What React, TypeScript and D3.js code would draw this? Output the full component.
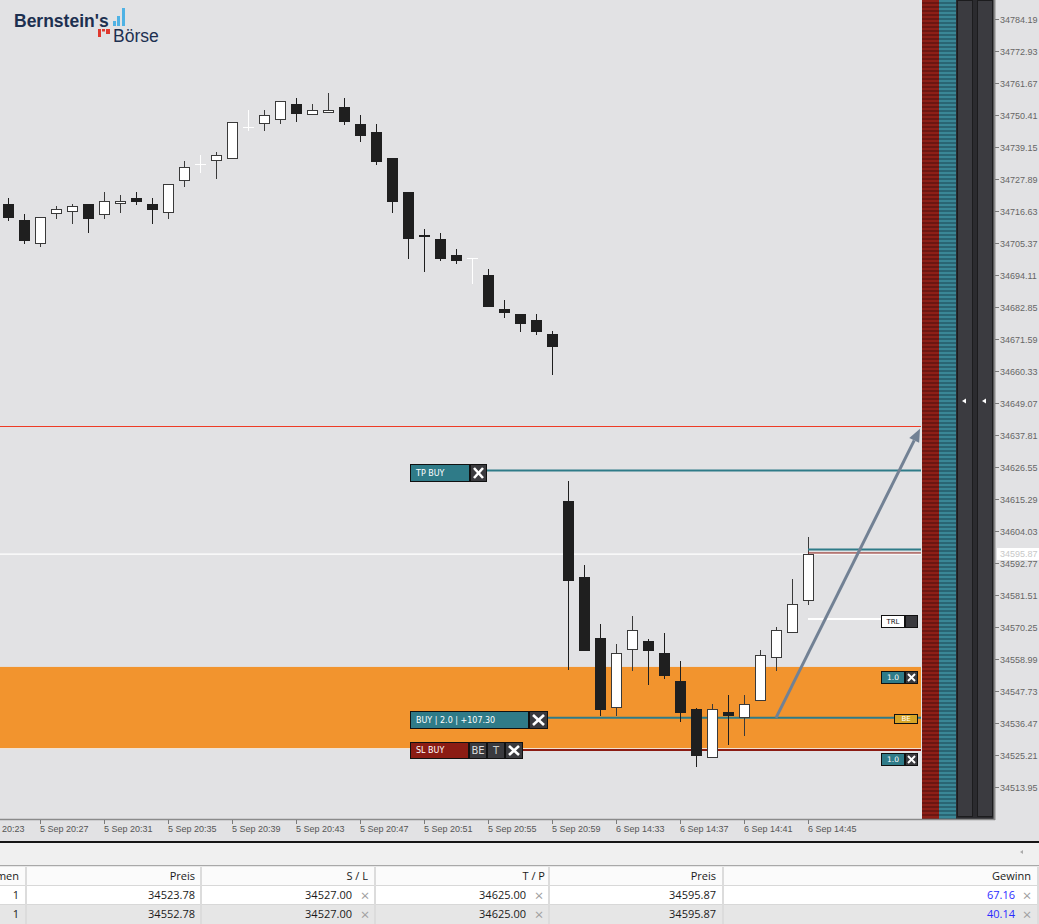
import React from "react";
import * as d3 from "d3";

const W = 1039;
const H = 924;

// ---- Candle data (1-minute bars) ----
const opens = [
  34719.1, 34713.47, 34705.14, 34715.46, 34716.17, 34719.1, 34715.11, 34718.98, 34721.21, 34719.1,
  34716.05, 34727.07, 34733.06, 34734.11, 34735.05, 34746.07, 34747.13, 34748.54, 34754.28, 34750.3,
  34751.0, 34753.23, 34747.25, 34744.43, 34735.28, 34723.32, 34708.19, 34706.78, 34701.15, 34699.98,
  34694.11, 34682.15, 34680.39, 34678.28, 34673.35,
  34614.58, 34587.84, 34566.37, 34541.86, 34562.03, 34565.32, 34561.1, 34551.24, 34541.39, 34524.03,
  34540.34, 34538.11, 34544.09, 34559.22, 34568.02, 34579.28,
];
const highs = [
  34721.21, 34715.58, 34714.52, 34718.39, 34719.1, 34719.1, 34723.32, 34722.26, 34723.32, 34721.21,
  34726.02, 34734.23, 34736.34, 34737.39, 34747.83, 34752.17, 34752.17, 34755.34, 34756.4, 34754.28,
  34758.16, 34756.4, 34750.41, 34747.25, 34735.28, 34723.32, 34710.3, 34708.89, 34703.26, 34699.98,
  34696.23, 34685.32, 34680.39, 34680.39, 34674.41,
  34621.62, 34592.06, 34571.3, 34564.26, 34574.12, 34566.02, 34568.13, 34558.28, 34541.74, 34543.15,
  34546.32, 34546.32, 34562.15, 34570.25, 34587.14, 34601.91,
];
const lows = [
  34713.23, 34705.14, 34704.08, 34713.94, 34712.06, 34709.01, 34713.94, 34716.05, 34718.86, 34712.06,
  34713.94, 34725.2, 34730.12, 34728.01, 34735.05, 34744.9, 34744.9, 34747.36, 34748.07, 34750.3,
  34751.0, 34747.01, 34741.03, 34732.94, 34716.05, 34699.86, 34695.29, 34699.16, 34698.1, 34691.07,
  34682.97, 34679.1, 34674.18, 34673.12, 34659.04,
  34555.11, 34561.8, 34538.93, 34538.93, 34554.88, 34549.95, 34552.07, 34536.94, 34521.1, 34524.03,
  34528.84, 34532.01, 34544.09, 34554.88, 34568.02, 34577.99,
];
const closes = [
  34714.29, 34706.2, 34714.52, 34717.22, 34718.28, 34713.94, 34720.04, 34720.04, 34719.92, 34717.1,
  34726.02, 34732.0, 34733.06, 34736.22, 34747.83, 34746.07, 34750.3, 34755.22, 34750.88, 34752.06,
  34752.06, 34748.07, 34743.14, 34733.99, 34719.92, 34706.9, 34707.6, 34699.86, 34699.16, 34699.98,
  34682.97, 34680.86, 34676.99, 34674.18, 34668.9,
  34586.55, 34561.8, 34541.16, 34561.1, 34569.07, 34561.92, 34553.12, 34540.1, 34524.97, 34541.39,
  34539.05, 34543.03, 34560.28, 34569.07, 34578.22, 34595.87,
];

// ---- Axis ticks ----
const yTickValues = [
  34784.19, 34772.93, 34761.67, 34750.41, 34739.15, 34727.89, 34716.63, 34705.37, 34694.11,
  34682.85, 34671.59, 34660.33, 34649.07, 34637.81, 34626.55, 34615.29, 34604.03, 34592.77,
  34581.51, 34570.25, 34558.99, 34547.73, 34536.47, 34525.21, 34513.95,
];
const xTickIndex = [-2, 2, 6, 10, 14, 18, 22, 26, 30, 34, 38, 42, 46, 50];
const xTickLabels = [
  "5 Sep 20:23", "5 Sep 20:27", "5 Sep 20:31", "5 Sep 20:35", "5 Sep 20:39", "5 Sep 20:43",
  "5 Sep 20:47", "5 Sep 20:51", "5 Sep 20:55", "5 Sep 20:59", "6 Sep 14:33", "6 Sep 14:37",
  "6 Sep 14:41", "6 Sep 14:45",
];

// ---- Trade levels ----
const currentPrice = 34595.87;
const avgOpenPrice = 34538.28;
const stopLoss = 34527.0;
const takeProfit = 34625.0;
const alertLevel = 34641.0;
const zoneTop = 34556.2;
const zoneBottom = 34527.6;
const positionOpens = [34552.78, 34523.78];
const trailLevel = 34573.07;
const askLevel = 34597.5;
const bidLevel = 34596.3;
const arrowFrom = [48, 34538.28];
const arrowTo = [57, 34640.0];

// ---- Table ----
const tableHeaders = ["Volumen", "Preis", "S / L", "T / P", "Preis", "Gewinn"];
const rowVolumes = ["1", "1"];
const rowOpenPrices = ["34523.78", "34552.78"];
const rowSL = ["34527.00", "34527.00"];
const rowTP = ["34625.00", "34625.00"];
const rowPrices = ["34595.87", "34595.87"];
const rowProfits = ["67.16", "40.14"];

const BG = "#e2e2e4";
const TEAL = "#2f7b88";
const DRED = "#8b1c14";
const XBOX = "#3a3a3e";
const PLOT_R = 921;

const x = d3.scaleLinear().domain([0, 50]).range([8, 808]);
const y = d3.scaleLinear().domain([34513.95, 34784.19]).range([787, 19]);

const smallFont = "'DejaVu Sans', sans-serif";
const axisFont = "'Liberation Sans', Arial, sans-serif";
const tableFont = "'Open Sans', 'Liberation Sans', sans-serif";

function XBox({ x0, y0, w, h, p = 4, sw = 2.6 }: any) {
  return (
    <g>
      <rect x={x0 + 0.5} y={y0 + 0.5} width={w - 1} height={h - 1} fill={XBOX} stroke="#111" />
      <line x1={x0 + p} y1={y0 + p} x2={x0 + w - p} y2={y0 + h - p} stroke="#fff" strokeWidth={sw} />
      <line x1={x0 + w - p} y1={y0 + p} x2={x0 + p} y2={y0 + h - p} stroke="#fff" strokeWidth={sw} />
    </g>
  );
}

function LabelBox({ x0, y0, w, h, fill, text, color = "#fff", size = 8, anchor = "start" }: any) {
  return (
    <g>
      <rect x={x0 + 0.5} y={y0 + 0.5} width={w - 1} height={h - 1} fill={fill} stroke="#111" />
      <text
        x={anchor === "middle" ? x0 + w / 2 : x0 + 6}
        y={y0 + h / 2}
        dy="0.35em"
        fill={color}
        fontSize={size}
        fontFamily={smallFont}
        textAnchor={anchor}
      >
        {text}
      </text>
    </g>
  );
}

function Candles() {
  return (
    <g shapeRendering="crispEdges">
      {opens.map((o, i) => {
        const c = closes[i];
        const cx = Math.round(x(i));
        const doji = Math.abs(c - o) < 0.005;
        const bull = c > o;
        const yh = y(highs[i]);
        const yl = y(lows[i]);
        if (doji) {
          const yo = Math.round(y(o)) + 0.5;
          return (
            <g key={i}>
              <line x1={cx + 0.5} x2={cx + 0.5} y1={yh} y2={yl} stroke="#fff" />
              <line x1={cx - 5} x2={cx + 6} y1={yo} y2={yo} stroke="#fff" />
            </g>
          );
        }
        const top = Math.round(y(Math.max(o, c)));
        const bot = Math.round(y(Math.min(o, c)));
        const hgt = Math.max(bot - top, 2);
        return (
          <g key={i}>
            <line x1={cx + 0.5} x2={cx + 0.5} y1={yh} y2={yl} stroke={bull ? "#3a3a3a" : "#1f1f1f"} />
            {bull ? (
              <rect x={cx - 4.5} y={top + 0.5} width={10} height={hgt - 1} fill="#fff" stroke="#3a3a3a" />
            ) : (
              <rect x={cx - 5} y={top} width={11} height={hgt} fill="#1f1f1f" />
            )}
          </g>
        );
      })}
    </g>
  );
}

export default function App() {
  const yCur = y(currentPrice);
  const yBuy = y(avgOpenPrice);
  const ySL = y(stopLoss);
  const yTP = y(takeProfit);

  const ax1 = x(arrowFrom[0]);
  const ay1 = y(arrowFrom[1]);
  const ax2 = x(arrowTo[0]);
  const ay2 = y(arrowTo[1]);
  const ang = Math.atan2(ay2 - ay1, ax2 - ax1);
  const headL = 13;
  const headW = 5.5;
  const bx = ax2 - headL * Math.cos(ang);
  const by = ay2 - headL * Math.sin(ang);
  const px = -Math.sin(ang) * headW;
  const py = Math.cos(ang) * headW;

  const colRight = [19, 195, 352, 526, 716, 1015];
  const colSep = [25, 200, 374, 548, 722, 1037];
  const headerRight = [19, 195, 368, 545, 716, 1031];

  return (
    <div style={{ position: "absolute", left: 0, top: 0, width: W, height: H }}>
      <svg width={W} height={H} viewBox={`0 0 ${W} ${H}`} style={{ display: "block" }}>
        <defs>
          <pattern id="redStripe" width="4" height="4" patternUnits="userSpaceOnUse">
            <rect width="4" height="4" fill="#8d1f17" />
            <rect width="4" height="2" y="2" fill="#6b1611" />
          </pattern>
          <pattern id="tealStripe" width="4" height="4" patternUnits="userSpaceOnUse">
            <rect width="4" height="4" fill="#3a8796" />
            <rect width="4" height="2" y="2" fill="#2a6573" />
          </pattern>
        </defs>
        <rect width={W} height={H} fill={BG} />

        {/* Logo */}
        <g>
          <text x={14} y={27} fontFamily="'Liberation Sans', Arial, sans-serif" fontWeight="bold" fontSize={17.5} fill="#1d3050">
            Bernstein's
          </text>
          <rect x={113} y={21} width={3} height={5} fill="#4fb2e4" />
          <rect x={117} y={16} width={3} height={10} fill="#4fb2e4" />
          <rect x={122} y={8} width={3} height={18} fill="#4fb2e4" />
          <rect x={98} y={29} width={3} height={8} fill="#e0392e" />
          <rect x={102} y={29} width={3} height={2.5} fill="#e0392e" />
          <rect x={106} y={29} width={4} height={5} fill="#e0392e" />
          <text x={113} y={42} fontFamily="'Liberation Sans', Arial, sans-serif" fontSize={17.5} fill="#1d3050">
            Börse
          </text>
        </g>

        {/* Orange zone */}
        <rect x={0} y={y(zoneTop)} width={PLOT_R} height={y(zoneBottom) - y(zoneTop)} fill="#f2942e" />
        <line x1={0} x2={PLOT_R} y1={y(zoneBottom) + 0.5} y2={y(zoneBottom) + 0.5} stroke="#f4e6d8" strokeWidth={1} />

        {/* Alert line */}
        <line x1={0} x2={PLOT_R} y1={Math.round(y(alertLevel)) + 0.5} y2={Math.round(y(alertLevel)) + 0.5} stroke="#ee3b25" strokeWidth={1} />

        {/* Current price line */}
        <line x1={0} x2={PLOT_R} y1={yCur} y2={yCur} stroke="#ffffff" strokeWidth={1.2} />

        {/* TP line */}
        <line x1={487} x2={PLOT_R} y1={yTP - 0.8} y2={yTP - 0.8} stroke={TEAL} strokeWidth={2} />
        {/* BUY line */}
        <line x1={548} x2={PLOT_R} y1={yBuy} y2={yBuy} stroke={TEAL} strokeWidth={2} />
        {/* SL line */}
        <line x1={523} x2={PLOT_R} y1={ySL} y2={ySL} stroke={DRED} strokeWidth={2} />

        <Candles />

        {/* Ask/Bid short lines */}
        <line x1={808} x2={PLOT_R} y1={y(askLevel)} y2={y(askLevel)} stroke={TEAL} strokeWidth={2} />
        <line x1={808} x2={PLOT_R} y1={y(bidLevel)} y2={y(bidLevel)} stroke={DRED} strokeWidth={1} />

        {/* Trailing line */}
        <line x1={808} x2={881} y1={y(trailLevel)} y2={y(trailLevel)} stroke="#fff" strokeWidth={2} />

        {/* Arrow */}
        <line x1={ax1} y1={ay1} x2={bx} y2={by} stroke="#728194" strokeWidth={3} />
        <polygon points={`${ax2},${ay2} ${bx + px},${by + py} ${bx - px},${by - py}`} fill="#728194" />

        {/* Left trade labels */}
        <LabelBox x0={410} y0={464} w={60} h={18} fill={TEAL} text="TP BUY" />
        <XBox x0={470} y0={464} w={17} h={18} />

        <LabelBox x0={410} y0={711} w={119} h={18} fill={TEAL} text="BUY | 2.0 | +107.30" />
        <XBox x0={529} y0={711} w={19} h={18} />

        <LabelBox x0={410} y0={742} w={59} h={17} fill={DRED} text="SL BUY" />
        <LabelBox x0={469} y0={742} w={18} h={17} fill={XBOX} text="BE" color="#ddd" size={10} anchor="middle" />
        <LabelBox x0={487} y0={742} w={18} h={17} fill={XBOX} text="T" color="#ccc" size={10} anchor="middle" />
        <XBox x0={505} y0={742} w={18} h={17} />

        {/* Right trade labels */}
        <LabelBox x0={881} y0={Math.round(y(trailLevel)) - 4} w={24} h={13} fill="#fff" text="TRL" color="#111" size={7} anchor="middle" />
        <rect x={905.5} y={Math.round(y(trailLevel)) - 3.5} width={12} height={12} fill={XBOX} stroke="#111" />

        {positionOpens.map((p, i) => {
          const yy = Math.round(y(p)) - 6;
          return (
            <g key={i}>
              <LabelBox x0={881} y0={yy} w={24} h={13} fill={TEAL} text="1.0" size={7.5} anchor="middle" />
              <XBox x0={905} y0={yy} w={13} h={13} p={3} sw={2} />
            </g>
          );
        })}
        <LabelBox x0={894} y0={Math.round(yBuy) - 4} w={24} h={10} fill="#d8a526" text="BE" color="#fff" size={7} anchor="middle" />

        {/* Right side bands */}
        <rect x={922} y={0} width={17} height={819} fill="url(#redStripe)" />
        <rect x={939} y={0} width={17} height={819} fill="url(#tealStripe)" />
        <rect x={956} y={0} width={38} height={819} fill="#2b2b2f" />
        <rect x={957.5} y={0.5} width={15} height={816} fill="#3b3b40" stroke="#1c1c1e" />
        <rect x={977.5} y={0.5} width={15} height={816} fill="#3b3b40" stroke="#1c1c1e" />
        <polygon points="962,401 966,398.5 966,403.5" fill="#fff" />
        <polygon points="982,401 986,398.5 986,403.5" fill="#fff" />

        {/* Y axis */}
        <line x1={994.5} x2={994.5} y1={0} y2={820} stroke="#8a8a8a" strokeWidth={2} />
        {yTickValues.map((v) => {
          const yy = Math.round(y(v)) + 0.5;
          return (
            <g key={v}>
              <line x1={995} x2={999} y1={yy} y2={yy} stroke="#7a7a7a" />
              <text x={1000} y={yy} dy="0.35em" fontSize={9} fontFamily={axisFont} fill="#666">
                {v.toFixed(2)}
              </text>
            </g>
          );
        })}
        <rect x={997} y={Math.round(yCur) - 6} width={42} height={12} fill="#fff" />
        <text x={1000} y={Math.round(yCur)} dy="0.35em" fontSize={9} fontFamily={axisFont} fill="#c8c8c8">
          {currentPrice.toFixed(2)}
        </text>

        {/* X axis */}
        <line x1={0} x2={995} y1={819.5} y2={819.5} stroke="#8a8a8a" strokeWidth={1.5} />
        {xTickIndex.map((idx, k) => {
          const xx = Math.round(x(idx)) + 0.5;
          return (
            <g key={idx}>
              <line x1={xx} x2={xx} y1={820} y2={824} stroke="#7a7a7a" />
              <text x={xx - 0.5} y={832} fontSize={9} fontFamily={axisFont} fill="#555">
                {xTickLabels[k]}
              </text>
            </g>
          );
        })}

        {/* Bottom terminal panel */}
        <rect x={0} y={841} width={W} height={2} fill="#161616" />
        <rect x={0} y={843} width={W} height={23} fill="#f0f0f0" />
        <polygon points="1020,852 1023,850 1023,854" fill="#aaa" />
        <rect x={0} y={865} width={W} height={1} fill="#a8a8a8" />
        <rect x={0} y={866} width={W} height={1} fill="#e8e8e8" />
        <rect x={0} y={867} width={W} height={19} fill="#fbfbfb" />
        <rect x={0} y={886} width={W} height={19} fill="#ffffff" />
        <rect x={0} y={905} width={W} height={19} fill="#e6e6e6" />
        <rect x={0} y={885} width={W} height={1} fill="#d8d8d8" />
        <rect x={0} y={904} width={W} height={1} fill="#d8d8d8" />
        {colSep.map((cx) => (
          <rect key={cx} x={cx} y={867} width={2} height={57} fill="#dcdcdc" />
        ))}
        {tableHeaders.map((t, i) => (
          <text key={i} x={headerRight[i]} y={876.5} dy="0.35em" textAnchor="end" fontSize={11} fontFamily={tableFont} fill="#1a1a1a">
            {t}
          </text>
        ))}
        {rowVolumes.map((_, r) => {
          const yy = 895.5 + r * 19;
          const cells = [rowVolumes[r], rowOpenPrices[r], rowSL[r], rowTP[r], rowPrices[r], rowProfits[r]];
          return (
            <g key={r}>
              {cells.map((t, i) => (
                <text key={i} x={colRight[i]} y={yy} dy="0.35em" textAnchor="end" fontSize={11} fontFamily={tableFont} fill={i === 5 ? "#2b2bff" : "#1a1a1a"}>
                  {t}
                </text>
              ))}
              {[365, 539, 1027].map((cx) => (
                <text key={cx} x={cx} y={yy} dy="0.35em" textAnchor="middle" fontSize={15} fontFamily={tableFont} fill="#a0a0a0">
                  ×
                </text>
              ))}
            </g>
          );
        })}
      </svg>
    </div>
  );
}
